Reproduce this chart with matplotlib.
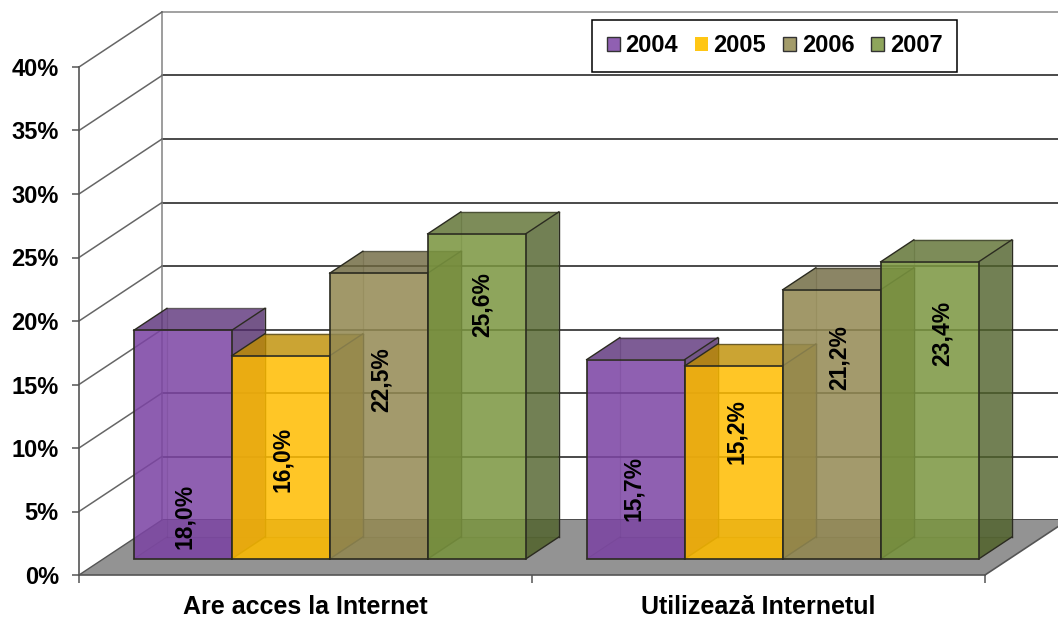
import matplotlib
matplotlib.use("Agg")
import matplotlib.pyplot as plt
from matplotlib.patches import Patch

categories = ["Are acces la Internet", "Utilizează Internetul"]
years = ["2004", "2005", "2006", "2007"]
v2004 = [18.0, 15.7]
v2005 = [16.0, 15.2]
v2006 = [22.5, 21.2]
v2007 = [25.6, 23.4]
series = [v2004, v2005, v2006, v2007]
y_ticks = [0, 5, 10, 15, 20, 25, 30, 35, 40]

W, H = 1058, 619
FONT = ["Liberation Sans", "DejaVu Sans"]
NARROW = ["Liberation Sans Narrow", "Liberation Sans", "DejaVu Sans"]
plt.rcParams["font.family"] = FONT

colors = [(124, 68, 164), (255, 188, 0), (147, 137, 82), (122, 149, 63)]
colors = [tuple(c / 255 for c in col) for col in colors]
edge = "#2b2b20"
ALPHA = 0.85

fig = plt.figure(figsize=(W / 100, H / 100), dpi=100)
ax = fig.add_axes([79 / W, (H - 575) / H, 906 / W, 508 / H])
ax.set_xlim(0, 2)
ax.set_ylim(0, 40)
ax.patch.set_alpha(0)

DX = 83 / 453   # full depth in category units
DY = 55 / 12.7  # full depth in percent units


def proj(x, y, d):
    return x + d * DX, y + d * DY


def face(pts, **kw):
    xs, ys = zip(*[proj(*p) for p in pts])
    ax.fill(xs, ys, clip_on=False, **kw)


def seg(a, b, **kw):
    ax.plot(*zip(proj(*a), proj(*b)), clip_on=False, **kw)


# floor
face([(0, 0, 0), (2, 0, 0), (2, 0, 1), (0, 0, 1)], facecolor="#939393",
     edgecolor="none", zorder=1)
seg((2, 0, 0), (2, 0, 1), color="#555555", lw=1.2, zorder=1.5)

# walls and gridlines
for t in y_ticks:
    top = t == 40
    if t > 0:
        seg((0, t, 0), (0, t, 1), color="#666666", lw=1.1, zorder=1)
    seg((0, t, 1), (2.2, t, 1), color="#9a9a9a" if top else "#3c3c3c", lw=1.3, zorder=0.5)
seg((0, 0, 1), (0, 40, 1), color="#8c8c8c", lw=1.2, zorder=0.5)
seg((0, 0, 0), (0, 0, 1), color="#555555", lw=1.0, zorder=1.2)

# bars
w = 98 / 453
d0, d1 = 16 / 55, 38 / 55
z = 2.0
for g in range(len(categories)):
    for s, vals in enumerate(series):
        v = vals[g]
        x0 = g + 0.5 + (s - 2) * w
        x1 = x0 + w
        col = colors[s]
        dark = tuple(c * 0.72 for c in col)
        # interior faces
        face([(x0, 0, d0), (x0, v, d0), (x0, v, d1), (x0, 0, d1)], facecolor=dark,
             alpha=0.08, edgecolor="none", zorder=z)
        face([(x0, 0, d0), (x1, 0, d0), (x1, 0, d1), (x0, 0, d1)], facecolor=dark,
             alpha=0.22, edgecolor="none", zorder=z)
        seg((x0, 0, d0), (x0, 0, d1), color=edge, lw=0.9, alpha=0.35, zorder=z)
        seg((x0, 0, d1), (x1, 0, d1), color=edge, lw=0.9, alpha=0.35, zorder=z)
        seg((x0, 0, d1), (x0, v, d1), color=edge, lw=0.9, alpha=0.35, zorder=z)
        # top and right faces
        face([(x0, v, d0), (x1, v, d0), (x1, v, d1), (x0, v, d1)],
             facecolor=tuple(c * 0.75 for c in col), alpha=0.8, edgecolor="none",
             zorder=z + 0.1)
        face([(x1, 0, d0), (x1, v, d0), (x1, v, d1), (x1, 0, d1)],
             facecolor=tuple(c * 0.65 for c in col), alpha=0.8, edgecolor="none",
             zorder=z + 0.1)
        seg((x0, v, d0), (x0, v, d1), color=edge, lw=1.0, zorder=z + 0.15)
        seg((x0, v, d1), (x1, v, d1), color=edge, lw=1.0, alpha=0.6, zorder=z + 0.15)
        seg((x1, v, d0), (x1, v, d1), color=edge, lw=1.0, zorder=z + 0.15)
        seg((x1, v, d1), (x1, 0, d1), color=edge, lw=1.0, zorder=z + 0.15)
        seg((x1, 0, d0), (x1, 0, d1), color=edge, lw=1.0, zorder=z + 0.15)
        # front
        fx, fy = proj(x0, 0, d0)
        ax.bar(fx, v, width=w, bottom=fy, align="edge", color=col, alpha=ALPHA,
               edgecolor="none", clip_on=False, zorder=z + 0.2)
        ax.bar(fx, v, width=w, bottom=fy, align="edge", facecolor="none",
               edgecolor=edge, lw=1.2, clip_on=False, zorder=z + 0.3)
        z += 1

# value labels
label_x = [0.232, 0.450, 0.667, 0.890, 1.225, 1.452, 1.678, 1.905]
label_y = [4.65, 9.13, 15.35, 21.3, 6.85, 11.26, 17.09, 19.06]
k = 0
for g in range(len(categories)):
    for vals in series:
        ax.text(label_x[k], label_y[k], f"{vals[g]:.1f}%".replace(".", ","), rotation=90,
                ha="center", va="center", fontsize=16.5, fontweight="bold", family=NARROW,
                color="black", zorder=50, clip_on=False)
        k += 1

# axes
for sp in ("top", "right"):
    ax.spines[sp].set_visible(False)
for sp in ("left", "bottom"):
    ax.spines[sp].set_color("#555555")
    ax.spines[sp].set_linewidth(1.2)
    ax.spines[sp].set_zorder(40)
ax.set_yticks(y_ticks)
ax.set_yticklabels([f"{t}%" for t in y_ticks], fontsize=17, fontweight="bold")
ax.tick_params(axis="y", length=5, width=1.1, color="#555555", pad=9.5)
ax.set_xticks([0, 1, 2])
ax.set_xticklabels([])
ax.tick_params(axis="x", length=6, width=1.1, color="#555555")
ax.set_xticks([0.5, 1.5], minor=True)
ax.set_xticklabels(categories, minor=True, fontsize=18, fontweight="bold")
ax.tick_params(axis="x", which="minor", length=0, pad=14.5)

# legend
handles = [Patch(facecolor=c, edgecolor="#333333" if i != 1 else "none", lw=1.0)
           for i, c in enumerate([(0.565, 0.376, 0.698), (1, 0.776, 0.08),
                                  (0.64, 0.61, 0.42), (0.557, 0.647, 0.361)])]
leg = ax.legend(handles, years, ncol=4, loc="center",
                bbox_to_anchor=((774.5 - 79) / 906, (575 - 46) / 508),
                frameon=True, fancybox=False, edgecolor="black", framealpha=1,
                prop={"family": FONT, "weight": "bold", "size": 17},
                handlelength=0.55, handleheight=0.55, handletextpad=0.25,
                columnspacing=0.7, borderpad=0.62, borderaxespad=0)
leg.get_frame().set_linewidth(1.1)
leg.set_zorder(60)

fig.savefig("out.png", dpi=100, facecolor="white")
